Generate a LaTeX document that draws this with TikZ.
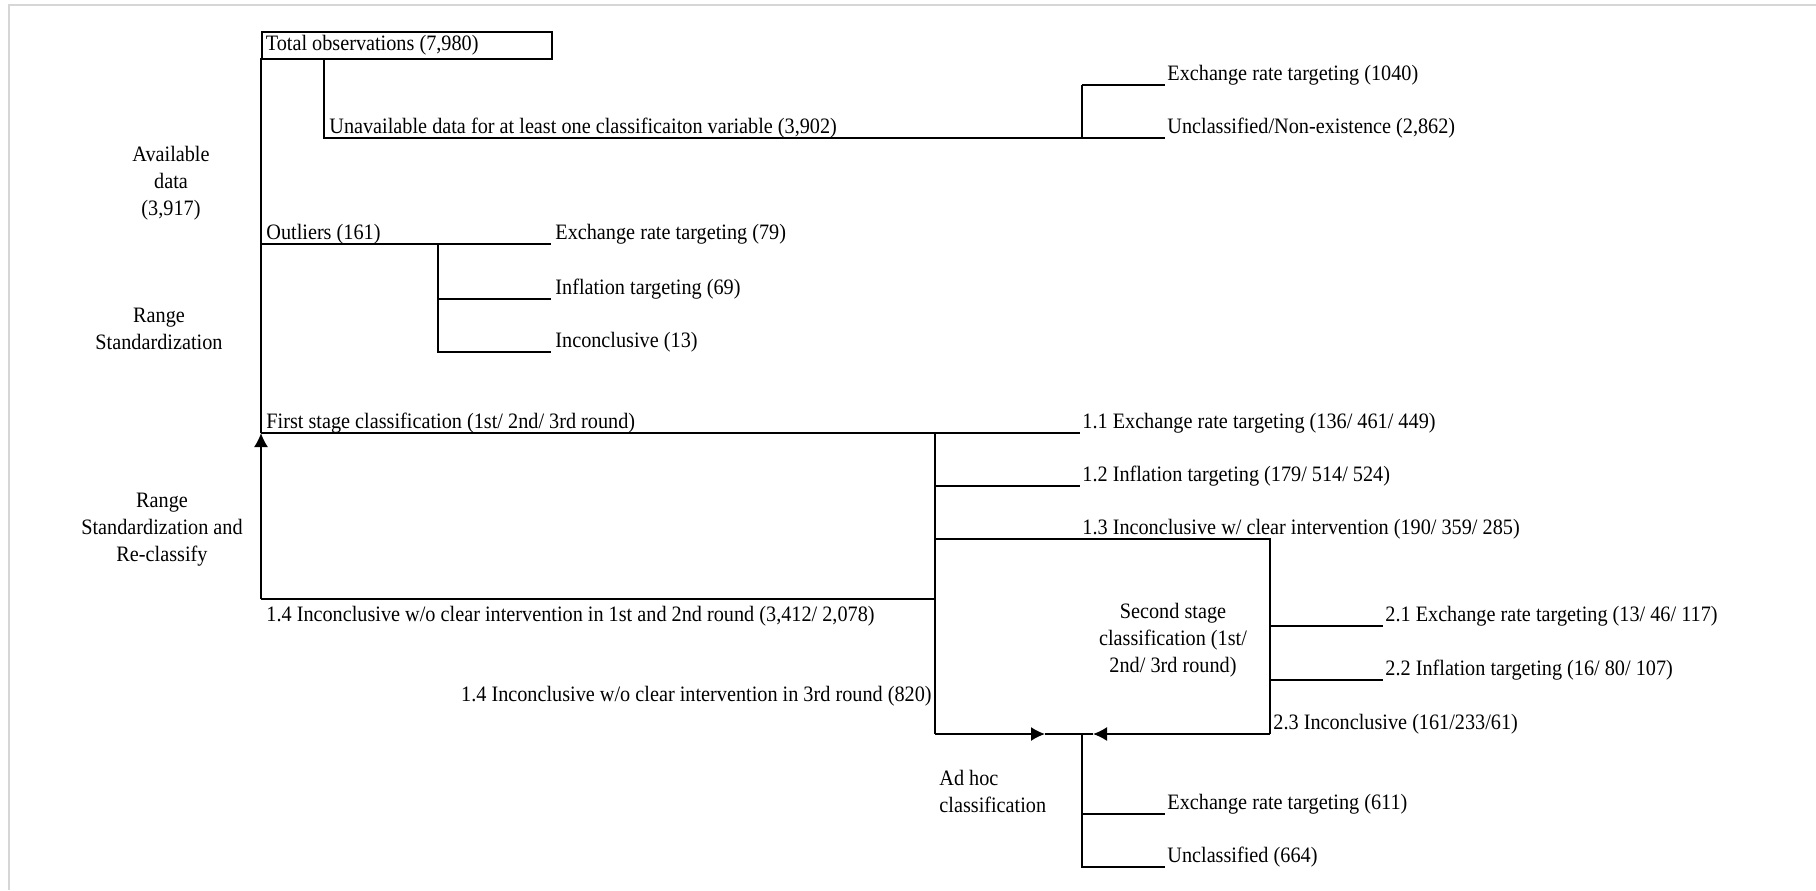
\documentclass[tikz,border=0pt]{standalone}
\usepackage{fontspec}
\setmainfont{Liberation Serif}[FakeStretch=0.92]
\usetikzlibrary{arrows.meta}
\begin{document}
\begin{tikzpicture}[x=0.5pt,y=-0.5pt,
  every node/.style={font=\fontsize{11}{13.5}\selectfont, inner sep=0pt, text=black},
  conn/.style={draw=black, line width=0.8pt},
  arr/.style={conn, -{Latex[length=7pt,width=7pt]}},
  lbl/.style={anchor=base west},
  side/.style={align=center},
  frame/.style={draw=black!16, line width=1pt}]
\useasboundingbox (0,0) rectangle (1816,890);
% light frame
\draw[frame] (9,890) -- (9,5) -- (1816,5);

% total observations box
\node[conn, anchor=north west, minimum width=145pt, minimum height=13.5pt,
      inner xsep=2pt] (tot) at (261,31) {\makebox[141pt][l]{Total observations (7,980)}};

% coordinates
\coordinate (m0) at (261,58);
\coordinate (mo) at (261,244);
\coordinate (mf) at (261,433);
\coordinate (m4) at (261,599);
\coordinate (u0) at (324,58);
\coordinate (u1) at (324,138);
\coordinate (ub) at (1082,138);
\coordinate (ut) at (1082,85);
\coordinate (uer) at (1165,85);
\coordinate (uun) at (1165,138);
\coordinate (oe) at (551,244);
\coordinate (ob) at (438,244);
\coordinate (oi0) at (438,299);
\coordinate (oc0) at (438,352);
\coordinate (oi) at (551,299);
\coordinate (oc) at (551,352);
\coordinate (f1) at (1080,433);
\coordinate (fb) at (935,433);
\coordinate (f20) at (935,486);
\coordinate (f2) at (1080,486);
\coordinate (f30) at (935,539);
\coordinate (f3) at (1270,539);
\coordinate (f4) at (935,599);
\coordinate (bl) at (935,734);
\coordinate (br) at (1270,734);
\coordinate (s10) at (1270,626);
\coordinate (s1) at (1383,626);
\coordinate (s20) at (1270,680);
\coordinate (s2) at (1383,680);
\coordinate (tipr) at (1045,734);
\coordinate (tipl) at (1093,734);
\coordinate (ab) at (1082,734);
\coordinate (ae0) at (1082,814);
\coordinate (ae) at (1165,814);
\coordinate (au0) at (1082,867);
\coordinate (au) at (1165,867);

% connectors
\draw[conn] (m0) -- (mf);
\draw[conn] (u0) -- (u1) -- (ub) -- (uun);
\draw[conn] (ut) -- (ub);
\draw[conn] (ut) -- (uer);
\draw[conn] (mo) -- (oe);
\draw[conn] (ob) -- (oc0) -- (oc);
\draw[conn] (oi0) -- (oi);
\draw[conn] (mf) -- (f1);
\draw[conn] (fb) -- (bl);
\draw[conn] (f20) -- (f2);
\draw[conn] (f30) -- (f3) -- (br);
\draw[conn] (f4) -- (m4);
\draw[arr] (m4) -- (mf);
\draw[conn] (s10) -- (s1);
\draw[conn] (s20) -- (s2);
\draw[arr] (bl) -- (tipr);
\draw[arr] (br) -- (tipl);
\draw[conn] (tipr) -- (tipl);
\draw[conn] (ab) -- (au0) -- (au);
\draw[conn] (ae0) -- (ae);

% labels
\node[lbl] (lun) at (329,133) {Unavailable data for at least one classificaiton variable (3,902)};
\node[lbl] (ler1) at (1167,80) {Exchange rate targeting (1040)};
\node[lbl] (lune) at (1167,133) {Unclassified/Non-existence (2,862)};
\node[lbl] (lout) at (266,239) {Outliers (161)};
\node[lbl] (loe) at (555,239) {Exchange rate targeting (79)};
\node[lbl] (loi) at (555,294) {Inflation targeting (69)};
\node[lbl] (loc) at (555,347) {Inconclusive (13)};
\node[lbl] (lfs) at (266,428) {First stage classification (1st/ 2nd/ 3rd round)};
\node[lbl] (l11) at (1082,428) {1.1 Exchange rate targeting (136/ 461/ 449)};
\node[lbl] (l12) at (1082,481) {1.2 Inflation targeting (179/ 514/ 524)};
\node[lbl] (l13) at (1082,534) {1.3 Inconclusive w/ clear intervention (190/ 359/ 285)};
\node[lbl] (l14) at (266,621) {1.4 Inconclusive w/o clear intervention in 1st and 2nd round (3,412/ 2,078)};
\node[anchor=base east] (l14b) at (932,701) {1.4 Inconclusive w/o clear intervention in 3rd round (820)};
\node[lbl] (l21) at (1385,621) {2.1 Exchange rate targeting (13/ 46/ 117)};
\node[lbl] (l22) at (1385,675) {2.2 Inflation targeting (16/ 80/ 107)};
\node[lbl] (l23) at (1273,729) {2.3 Inconclusive (161/233/61)};
\node[lbl] (lae) at (1167,809) {Exchange rate targeting (611)};
\node[lbl] (lau) at (1167,862) {Unclassified (664)};

% side captions
\node[side] (cav) at (171,183) {Available\\data\\(3,917)};
\node[side] (crs) at (159,329) {Range\\Standardization};
\node[side] (crr) at (162,530) {Range\\Standardization and\\Re-classify};
\node[side] (css) at (1173,640) {Second stage\\classification (1st/\\2nd/ 3rd round)};
\node[align=left, anchor=west] (cah) at (939,791) {Ad hoc\\classification};
\end{tikzpicture}
\end{document}
